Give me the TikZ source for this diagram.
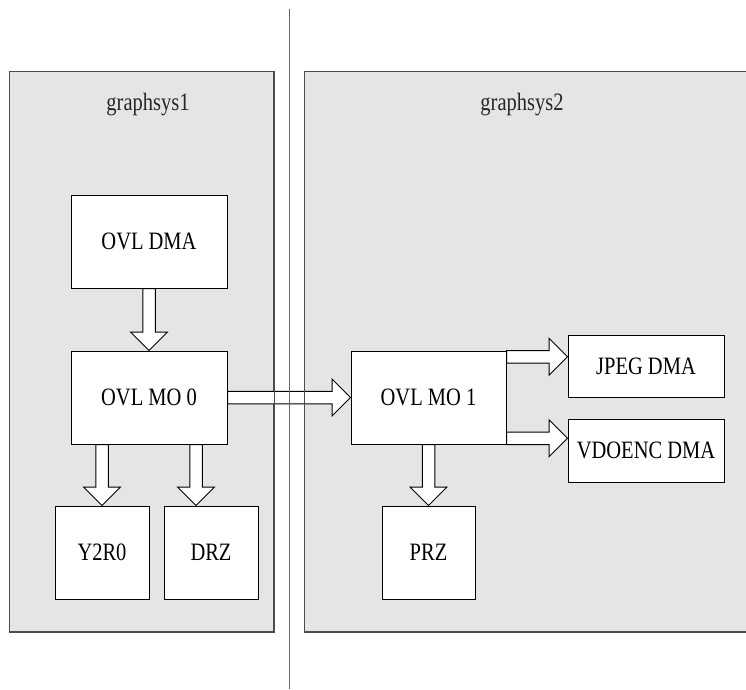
\documentclass[tikz,border=0pt]{standalone}
\usepackage{fontspec}
\setmainfont[FakeStretch=0.82]{Liberation Serif}
\usetikzlibrary{positioning, calc}
\definecolor{sysgray}{gray}{0.898}
\tikzset{
  grp/.style  = {draw=black!70, fill=sysgray, line width=1pt, anchor=north west,
                 inner sep=0pt},
  grpl/.style = {draw=black!70, line width=1pt},
  blk/.style  = {draw, fill=white, line width=1pt, inner sep=0pt,
                 font=\fontsize{25}{30}\selectfont},
  ttl/.style  = {font=\fontsize{25}{30}\selectfont, text=black!85, inner sep=0pt},
  fat/.style  = {draw, fill=white, line width=1pt, line join=miter,
    to path={
      ($(\tikztostart)!6.25pt!90:(\tikztotarget)$)
      -- ($($(\tikztotarget)!18.5pt!(\tikztostart)$)!6.25pt!90:(\tikztotarget)$)
      -- ($($(\tikztotarget)!18.5pt!(\tikztostart)$)!18.5pt!90:(\tikztotarget)$)
      -- (\tikztotarget)
      -- ($($(\tikztotarget)!18.5pt!(\tikztostart)$)!18.5pt!-90:(\tikztotarget)$)
      -- ($($(\tikztotarget)!18.5pt!(\tikztostart)$)!6.25pt!-90:(\tikztotarget)$)
      -- ($(\tikztostart)!6.25pt!-90:(\tikztotarget)$) -- cycle}},
}

\begin{document}
\begin{tikzpicture}[x=1pt, y=-1pt]
  \useasboundingbox (0,0) rectangle (746,689);
  \clip (0,0) rectangle (746,689);
  % subsystem frames
  \node[grp, minimum width=264pt, minimum height=560pt] (gs1) at (9,71) {};
  \node[grp, minimum width=480pt, minimum height=560pt] (gs2) at (304,71) {};
  \node[ttl] (gs1t) at (148,105) {graphsys1};
  \node[ttl] (gs2t) at (522,105) {graphsys2};
  % blocks
  \node[blk, minimum width=156pt, minimum height=93pt] (dma)  at (149,241.5) {OVL DMA};
  \node[blk, minimum width=156pt, minimum height=93pt] (mo0)  at (149,397.5) {OVL MO 0};
  \node[blk, minimum width=94pt,  minimum height=93pt] (y2r)  at (102,552.5) {Y2R0};
  \node[blk, minimum width=94pt,  minimum height=93pt] (drz)  at (211,552.5) {DRZ};
  \node[blk, minimum width=155pt, minimum height=93pt] (mo1)  at (428.5,397.5) {OVL MO 1};
  \node[blk, minimum width=93pt,  minimum height=93pt] (prz)  at (428.5,552.5) {PRZ};
  \node[blk, minimum width=156pt, minimum height=62pt] (jpeg) at (646,366) {JPEG DMA};
  \node[blk, minimum width=156pt, minimum height=63pt] (vdo)  at (646,450.5) {VDOENC DMA};
  % data flow
  \coordinate (drzin) at ($(drz.north)+(-15,0)$);
  \coordinate (jpgout) at ($(mo1.north east)+(0,6.25)$);
  \coordinate (vdoout) at ($(mo1.south east)+(0,-6.25)$);
  \draw[fat] (dma.south) to (mo0.north);
  \draw[fat] (mo0.south -| y2r.north) to (y2r.north);
  \draw[fat] (mo0.south -| drzin) to (drzin);
  \draw[fat] (mo0.east) to (mo1.west);
  \draw[fat] (mo1.south -| prz.north) to (prz.north);
  \draw[fat] (jpgout) to (jpgout -| jpeg.west);
  \draw[fat] (vdoout) to (vdoout -| vdo.west);
  % frame edges and divider on top
  \draw[grpl] (gs1.north west) rectangle (gs1.south east);
  \draw[grpl] (gs2.north west) rectangle (gs2.south east);
  \draw[black!60, line width=1pt] (289,9) -- (289,689);
\end{tikzpicture}
\end{document}
